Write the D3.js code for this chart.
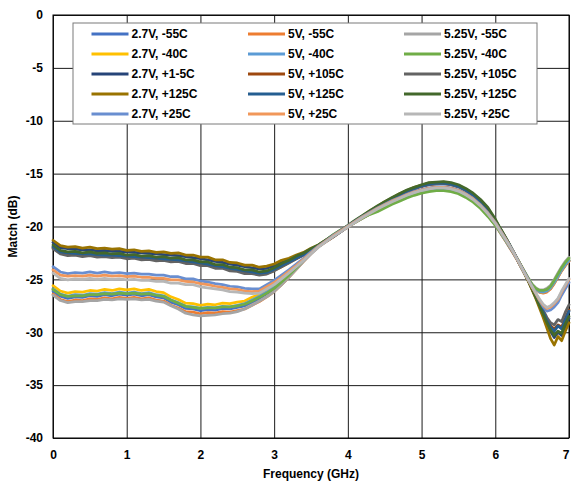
<!DOCTYPE html>
<html><head><meta charset="utf-8">
<script src="https://cdn.jsdelivr.net/npm/d3@7"></script>
<style>
html,body{margin:0;padding:0;background:#fff;}
svg{display:block;}
text{font-family:Arial,"Liberation Sans",sans-serif;font-weight:bold;font-size:12px;fill:#000;}
</style></head><body>
<svg id="chart" width="571" height="484"></svg>
<script>
const freq = [0,0.1,0.2,0.3,0.4,0.5,0.6,0.7,0.8,0.9,1,1.1,1.2,1.3,1.4,1.5,1.6,1.7,1.8,1.9,2,2.1,2.2,2.3,2.4,2.5,2.6,2.7,2.8,2.9,3,3.1,3.2,3.3,3.4,3.5,3.6,3.7,3.8,3.9,4,4.1,4.2,4.3,4.4,4.5,4.6,4.7,4.8,4.9,5,5.1,5.2,5.3,5.4,5.5,5.6,5.7,5.8,5.9,6,6.05,6.1,6.15,6.2,6.25,6.3,6.35,6.4,6.45,6.5,6.55,6.6,6.65,6.7,6.75,6.8,6.85,6.9,6.95,7];

const v27_m55 = [-26.1,-26.6,-26.8,-26.65,-26.7,-26.55,-26.6,-26.45,-26.55,-26.4,
-26.5,-26.4,-26.55,-26.45,-26.65,-26.75,-27.15,-27.4,-27.75,-27.8,
-27.95,-27.85,-27.9,-27.75,-27.8,-27.65,-27.5,-27.15,-26.8,-26.35,
-25.9,-25.3,-24.65,-23.95,-23.2,-22.5,-21.9,-21.35,-20.85,-20.4,
-20.0,-19.6,-19.2,-18.8,-18.45,-18.1,-17.75,-17.45,-17.15,-16.9,
-16.7,-16.6,-16.5,-16.5,-16.6,-16.8,-17.15,-17.6,-18.2,-18.95,-19.85,
-20.35,-20.9,-21.45,-22.0,-22.55,-23.15,-23.75,-24.4,-25.0,-25.55,-25.95,-26.2,-26.25,-26.15,-25.85,-25.35,-24.75,-24.15,-23.65,-23.25];

const v5_m55 = [-26.4,-26.9,-27.1,-26.95,-27.0,-26.85,-26.9,-26.75,-26.85,-26.7,
-26.8,-26.7,-26.85,-26.75,-26.95,-27.05,-27.45,-27.7,-28.05,-28.1,
-28.25,-28.15,-28.2,-28.05,-28.1,-27.95,-27.8,-27.45,-27.1,-26.65,
-26.15,-25.5,-24.8,-24.05,-23.3,-22.55,-21.9,-21.35,-20.85,-20.4,
-20.0,-19.6,-19.2,-18.8,-18.45,-18.1,-17.75,-17.45,-17.15,-16.9,
-16.7,-16.6,-16.5,-16.5,-16.6,-16.8,-17.15,-17.6,-18.2,-18.95,-19.85,
-20.4,-20.95,-21.5,-22.05,-22.6,-23.2,-23.8,-24.4,-25.0,-25.55,-25.95,-26.2,-26.3,-26.2,-25.9,-25.4,-24.8,-24.2,-23.7,-23.3];

const v525_m55 = [-26.5,-27.0,-27.2,-27.1,-27.1,-27.0,-27.0,-26.9,-26.95,-26.85,
-26.9,-26.85,-26.95,-26.9,-27.05,-27.15,-27.5,-27.8,-28.2,-28.35,
-28.45,-28.4,-28.35,-28.25,-28.2,-28.05,-27.8,-27.45,-27.05,-26.65,
-26.15,-25.5,-24.8,-24.05,-23.3,-22.6,-21.95,-21.4,-20.9,-20.45,
-20.05,-19.6,-19.2,-18.8,-18.45,-18.1,-17.75,-17.45,-17.15,-16.9,
-16.7,-16.55,-16.45,-16.45,-16.55,-16.75,-17.1,-17.55,-18.15,-18.9,-19.8,
-20.3,-20.85,-21.4,-21.95,-22.5,-23.1,-23.7,-24.3,-24.9,-25.45,-25.8,-26.0,-26.0,-25.85,-25.55,-25.0,-24.4,-23.8,-23.3,-22.9];

const v27_m40 = [-25.6,-26.1,-26.3,-26.15,-26.2,-26.05,-26.1,-25.95,-26.05,-25.9,
-26.0,-25.9,-26.05,-25.95,-26.15,-26.25,-26.65,-26.9,-27.25,-27.3,
-27.45,-27.35,-27.4,-27.25,-27.3,-27.15,-27.05,-26.7,-26.4,-26.0,
-25.6,-25.05,-24.45,-23.8,-23.1,-22.45,-21.85,-21.3,-20.8,-20.35,
-19.95,-19.55,-19.15,-18.75,-18.4,-18.05,-17.7,-17.4,-17.1,-16.85,
-16.65,-16.55,-16.45,-16.45,-16.55,-16.75,-17.1,-17.55,-18.15,-18.9,-19.8,
-20.3,-20.85,-21.4,-21.95,-22.5,-23.1,-23.7,-24.35,-24.95,-25.5,-25.9,-26.15,-26.2,-26.1,-25.8,-25.3,-24.7,-24.1,-23.6,-23.2];

const v5_m40 = [-25.9,-26.4,-26.6,-26.45,-26.5,-26.35,-26.4,-26.25,-26.35,-26.2,
-26.3,-26.2,-26.35,-26.25,-26.45,-26.55,-26.95,-27.2,-27.55,-27.6,
-27.75,-27.65,-27.7,-27.55,-27.6,-27.45,-27.3,-26.95,-26.6,-26.2,
-25.75,-25.2,-24.55,-23.85,-23.15,-22.45,-21.85,-21.3,-20.8,-20.35,
-19.95,-19.55,-19.15,-18.8,-18.45,-18.1,-17.75,-17.45,-17.15,-16.9,
-16.7,-16.6,-16.5,-16.5,-16.6,-16.8,-17.15,-17.6,-18.2,-18.95,-19.85,
-20.35,-20.9,-21.45,-22.0,-22.55,-23.15,-23.75,-24.35,-24.95,-25.5,-25.9,-26.15,-26.2,-26.1,-25.8,-25.3,-24.7,-24.1,-23.6,-23.2];

const v525_m40 = [-25.95,-26.45,-26.6,-26.55,-26.55,-26.45,-26.45,-26.35,-26.4,-26.3,
-26.35,-26.3,-26.4,-26.35,-26.5,-26.6,-26.95,-27.25,-27.55,-27.65,
-27.75,-27.7,-27.7,-27.6,-27.6,-27.5,-27.35,-27.05,-26.7,-26.3,
-25.85,-25.25,-24.6,-23.9,-23.15,-22.45,-21.85,-21.3,-20.8,-20.35,
-20.0,-19.6,-19.2,-18.85,-18.6,-18.25,-17.9,-17.6,-17.3,-17.05,
-16.85,-16.7,-16.6,-16.6,-16.7,-16.9,-17.25,-17.7,-18.3,-19.05,-19.9,
-20.35,-20.85,-21.4,-21.95,-22.5,-23.1,-23.7,-24.35,-24.95,-25.5,-25.85,-26.05,-26.05,-25.95,-25.65,-25.1,-24.5,-23.9,-23.4,-23.0];

const v27_p15 = [-21.5,-22.0,-22.1,-22.15,-22.2,-22.2,-22.3,-22.25,-22.35,-22.35,
-22.4,-22.45,-22.5,-22.55,-22.6,-22.65,-22.7,-22.75,-22.85,-22.95,
-23.05,-23.15,-23.3,-23.4,-23.55,-23.65,-23.8,-23.9,-24.0,-23.95,
-23.7,-23.4,-23.15,-22.85,-22.55,-22.2,-21.85,-21.4,-20.95,-20.5,
-20.0,-19.5,-19.05,-18.6,-18.15,-17.75,-17.35,-17.0,-16.65,-16.4,
-16.15,-16.0,-15.9,-15.9,-16.0,-16.2,-16.55,-17.0,-17.6,-18.35,-19.45,
-20.05,-20.6,-21.2,-21.85,-22.5,-23.15,-23.85,-24.5,-25.2,-25.95,-26.7,-27.5,-28.3,-29.2,-29.9,-30.5,-30.0,-30.3,-29.5,-28.7];

const v5_p105 = [-22.0,-22.5,-22.6,-22.65,-22.7,-22.7,-22.75,-22.8,-22.8,-22.85,
-22.9,-22.95,-23.0,-23.05,-23.1,-23.15,-23.2,-23.25,-23.35,-23.45,
-23.55,-23.65,-23.8,-23.9,-24.05,-24.15,-24.3,-24.4,-24.5,-24.45,
-24.15,-23.8,-23.4,-23.05,-22.7,-22.3,-21.9,-21.45,-21.0,-20.5,
-20.05,-19.55,-19.1,-18.65,-18.2,-17.8,-17.4,-17.05,-16.7,-16.45,
-16.2,-16.05,-15.95,-15.95,-16.05,-16.25,-16.6,-17.05,-17.65,-18.4,-19.5,
-20.1,-20.65,-21.25,-21.85,-22.5,-23.15,-23.8,-24.45,-25.1,-25.8,-26.5,-27.3,-28.0,-28.8,-29.4,-29.7,-29.3,-29.5,-28.7,-27.9];

const v525_p105 = [-22.1,-22.6,-22.75,-22.7,-22.85,-22.75,-22.9,-22.85,-22.95,-22.9,
-23.05,-23.0,-23.15,-23.1,-23.25,-23.2,-23.35,-23.3,-23.5,-23.5,
-23.7,-23.7,-23.95,-23.95,-24.2,-24.25,-24.45,-24.45,-24.6,-24.5,
-24.2,-23.8,-23.45,-23.05,-22.7,-22.25,-21.85,-21.4,-20.95,-20.45,
-20.0,-19.5,-19.05,-18.6,-18.15,-17.75,-17.35,-17.0,-16.7,-16.45,
-16.2,-16.05,-16.0,-15.95,-16.05,-16.25,-16.6,-17.05,-17.65,-18.4,-19.5,
-20.1,-20.7,-21.3,-21.9,-22.5,-23.15,-23.8,-24.45,-25.1,-25.75,-26.45,-27.2,-27.9,-28.6,-29.1,-29.3,-28.8,-29.0,-28.1,-27.4];

const v27_p125 = [-21.3,-21.8,-21.95,-21.9,-22.05,-21.95,-22.1,-22.05,-22.15,-22.1,
-22.25,-22.2,-22.35,-22.3,-22.45,-22.4,-22.55,-22.5,-22.7,-22.7,
-22.9,-22.9,-23.15,-23.15,-23.4,-23.45,-23.65,-23.65,-23.85,-23.75,
-23.55,-23.2,-23.0,-22.7,-22.45,-22.05,-21.75,-21.3,-20.9,-20.4,
-19.95,-19.45,-19.0,-18.5,-18.1,-17.65,-17.3,-16.9,-16.6,-16.3,
-16.1,-15.9,-15.85,-15.8,-15.95,-16.1,-16.5,-16.9,-17.55,-18.3,-19.4,
-20.0,-20.55,-21.2,-21.8,-22.45,-23.1,-23.8,-24.5,-25.2,-26.0,-26.8,-27.7,-28.6,-29.6,-30.6,-31.2,-30.4,-30.8,-29.9,-29.1];

const v5_p125 = [-21.9,-22.4,-22.5,-22.55,-22.6,-22.6,-22.65,-22.7,-22.7,-22.75,
-22.8,-22.85,-22.9,-22.95,-23.0,-23.05,-23.1,-23.15,-23.25,-23.35,
-23.45,-23.55,-23.7,-23.8,-23.95,-24.05,-24.2,-24.3,-24.4,-24.35,
-24.05,-23.7,-23.35,-23.0,-22.65,-22.25,-21.85,-21.4,-20.95,-20.5,
-20.0,-19.5,-19.05,-18.6,-18.15,-17.75,-17.35,-17.0,-16.65,-16.4,
-16.15,-16.0,-15.9,-15.9,-16.0,-16.2,-16.55,-17.0,-17.6,-18.35,-19.45,
-20.05,-20.6,-21.2,-21.8,-22.45,-23.1,-23.75,-24.4,-25.05,-25.75,-26.5,-27.3,-28.1,-28.9,-29.5,-29.9,-29.4,-29.7,-28.8,-28.0];

const v525_p125 = [-21.75,-22.25,-22.4,-22.35,-22.5,-22.4,-22.55,-22.5,-22.6,-22.55,
-22.7,-22.65,-22.8,-22.75,-22.9,-22.85,-23.0,-22.95,-23.15,-23.15,
-23.35,-23.35,-23.6,-23.6,-23.85,-23.9,-24.1,-24.1,-24.3,-24.2,
-23.9,-23.5,-23.2,-22.8,-22.5,-22.1,-21.75,-21.3,-20.85,-20.4,
-19.9,-19.4,-18.95,-18.5,-18.05,-17.65,-17.25,-16.9,-16.55,-16.3,
-16.05,-15.85,-15.8,-15.75,-15.85,-16.05,-16.4,-16.85,-17.45,-18.2,-19.3,
-19.95,-20.55,-21.15,-21.8,-22.45,-23.1,-23.8,-24.45,-25.15,-25.9,-26.7,-27.5,-28.3,-29.1,-29.8,-30.3,-29.9,-30.1,-29.2,-28.5];

const v27_p25 = [-23.8,-24.3,-24.45,-24.35,-24.4,-24.3,-24.4,-24.3,-24.4,-24.35,
-24.45,-24.4,-24.5,-24.5,-24.6,-24.6,-24.75,-24.75,-24.95,-24.95,
-25.15,-25.25,-25.4,-25.5,-25.65,-25.7,-25.85,-25.9,-25.9,-25.5,
-25.1,-24.6,-24.1,-23.55,-23.0,-22.4,-21.85,-21.35,-20.85,-20.4,
-19.95,-19.5,-19.05,-18.65,-18.25,-17.9,-17.55,-17.25,-16.95,-16.7,
-16.5,-16.35,-16.25,-16.25,-16.35,-16.55,-16.9,-17.35,-17.95,-18.7,-19.6,
-20.15,-20.7,-21.25,-21.85,-22.45,-23.1,-23.75,-24.4,-25.05,-25.7,-26.35,-27.0,-27.6,-28.0,-27.9,-27.6,-27.2,-26.5,-25.9,-25.3];

const v5_p25 = [-24.1,-24.6,-24.7,-24.65,-24.7,-24.6,-24.7,-24.6,-24.7,-24.65,
-24.75,-24.7,-24.8,-24.8,-24.9,-24.9,-25.05,-25.05,-25.2,-25.25,
-25.4,-25.5,-25.65,-25.75,-25.9,-25.95,-26.1,-26.15,-26.1,-25.7,
-25.3,-24.8,-24.25,-23.7,-23.1,-22.5,-21.9,-21.4,-20.9,-20.45,
-20.0,-19.55,-19.1,-18.7,-18.3,-17.95,-17.6,-17.3,-17.0,-16.75,
-16.55,-16.4,-16.3,-16.3,-16.4,-16.6,-16.95,-17.4,-18.0,-18.75,-19.65,
-20.2,-20.75,-21.3,-21.9,-22.5,-23.15,-23.8,-24.45,-25.1,-25.75,-26.35,-26.95,-27.45,-27.75,-27.6,-27.3,-26.9,-26.2,-25.6,-25.0];

const v525_p25 = [-24.4,-24.9,-25.05,-24.95,-25.0,-24.9,-25.0,-24.9,-25.0,-24.95,
-25.05,-25.0,-25.1,-25.1,-25.2,-25.2,-25.35,-25.35,-25.5,-25.5,
-25.7,-25.8,-25.9,-26.0,-26.15,-26.2,-26.3,-26.35,-26.3,-25.9,
-25.5,-24.95,-24.4,-23.8,-23.2,-22.55,-21.95,-21.45,-20.95,-20.5,
-20.05,-19.6,-19.15,-18.75,-18.35,-18.0,-17.65,-17.35,-17.05,-16.8,
-16.6,-16.45,-16.35,-16.35,-16.45,-16.65,-17.0,-17.45,-18.05,-18.8,-19.7,
-20.25,-20.8,-21.35,-21.9,-22.5,-23.15,-23.8,-24.45,-25.1,-25.7,-26.3,-26.85,-27.35,-27.65,-27.5,-27.2,-26.8,-26.1,-25.5,-24.9];

const seriesNames = ["2.7V, -55C","5V, -55C","5.25V, -55C",
  "2.7V, -40C","5V, -40C","5.25V, -40C",
  "2.7V, +1-5C","5V, +105C","5.25V, +105C",
  "2.7V, +125C","5V, +125C","5.25V, +125C",
  "2.7V, +25C","5V, +25C","5.25V, +25C"];
const seriesValues = [v27_m55, v5_m55, v525_m55, v27_m40, v5_m40, v525_m40,
  v27_p15, v5_p105, v525_p105, v27_p125, v5_p125, v525_p125, v27_p25, v5_p25, v525_p25];
const xTicks = [0,1,2,3,4,5,6,7];
const yTicks = [0,-5,-10,-15,-20,-25,-30,-35,-40];

// styles
const colors = ["#4472C4","#ED7D31","#A5A5A5","#FFC000","#5B9BD5","#70AD47",
  "#264478","#9E480E","#636363","#997300","#255E91","#43682B","#698ED0","#F1975A","#B7B7B7"];

const svg = d3.select("#chart");
const L = 53, R = 569, T = 15, B = 438;
const x = d3.scaleLinear().domain([0, 7]).range([L, R]);
const y = d3.scaleLinear().domain([-40, 0]).range([B, T]);

svg.append("rect").attr("width", 571).attr("height", 484).attr("fill", "#fff");

// y axis + horizontal gridlines
const gy = svg.append("g").attr("transform", `translate(${L},0)`)
  .call(d3.axisLeft(y).tickValues(yTicks).tickSize(-(R - L)).tickPadding(10).tickFormat(d => String(d)));
gy.select(".domain").remove();
gy.selectAll(".tick line").attr("stroke", "#1a1a1a").attr("stroke-width", 1);
gy.selectAll(".tick text").attr("fill", "#000").style("font-size", "12px").style("font-weight", "bold")
  .style("font-family", "Arial, 'Liberation Sans', sans-serif");

// x axis + vertical gridlines
const gx = svg.append("g").attr("transform", `translate(0,${B})`)
  .call(d3.axisBottom(x).tickValues(xTicks).tickSize(-(B - T)).tickPadding(12).tickFormat(d => String(d)));
gx.select(".domain").remove();
gx.selectAll(".tick line").attr("stroke", "#1a1a1a").attr("stroke-width", 1);
gx.selectAll(".tick text").attr("fill", "#000").style("font-size", "12px").style("font-weight", "bold")
  .style("font-family", "Arial, 'Liberation Sans', sans-serif");
// keep the last tick label inside the canvas
gx.selectAll(".tick text").filter(d => d === 7).attr("text-anchor", "end").attr("dx", "0");

// plot border
svg.append("rect").attr("x", L).attr("y", T).attr("width", R - L).attr("height", B - T)
  .attr("fill", "none").attr("stroke", "#000").attr("stroke-width", 1);

// series
const line = d3.line().x((d, i) => x(freq[i])).y(d => y(d)).curve(d3.curveLinear);
seriesValues.forEach((vals, k) => {
  const n = Math.min(vals.length, freq.length);
  svg.append("path").datum(vals.slice(0, n))
    .attr("d", line).attr("fill", "none").attr("stroke", colors[k])
    .attr("stroke-width", 2.75).attr("stroke-linejoin", "round").attr("stroke-linecap", "round");
});

// legend
const lg = svg.append("g");
lg.append("rect").attr("x", 73).attr("y", 23).attr("width", 464).attr("height", 101)
  .attr("fill", "#fff").attr("stroke", "#7a7a7a").attr("stroke-width", 1);
const colX = [91.5, 248, 404];
seriesNames.forEach((name, i) => {
  const r = Math.floor(i / 3), c = i % 3;
  const yy = 34 + r * 20;
  lg.append("line").attr("x1", colX[c]).attr("x2", colX[c] + 37).attr("y1", yy).attr("y2", yy)
    .attr("stroke", colors[i]).attr("stroke-width", 3);
  lg.append("text").attr("x", colX[c] + 40).attr("y", yy).attr("dy", "0.36em").text(name);
});

// axis titles
svg.append("text").attr("x", (L + R) / 2).attr("y", 478).attr("text-anchor", "middle").text("Frequency (GHz)");
svg.append("text").attr("transform", `translate(17,${(T + B) / 2}) rotate(-90)`).attr("text-anchor", "middle").text("Match (dB)");
</script>
</body></html>
